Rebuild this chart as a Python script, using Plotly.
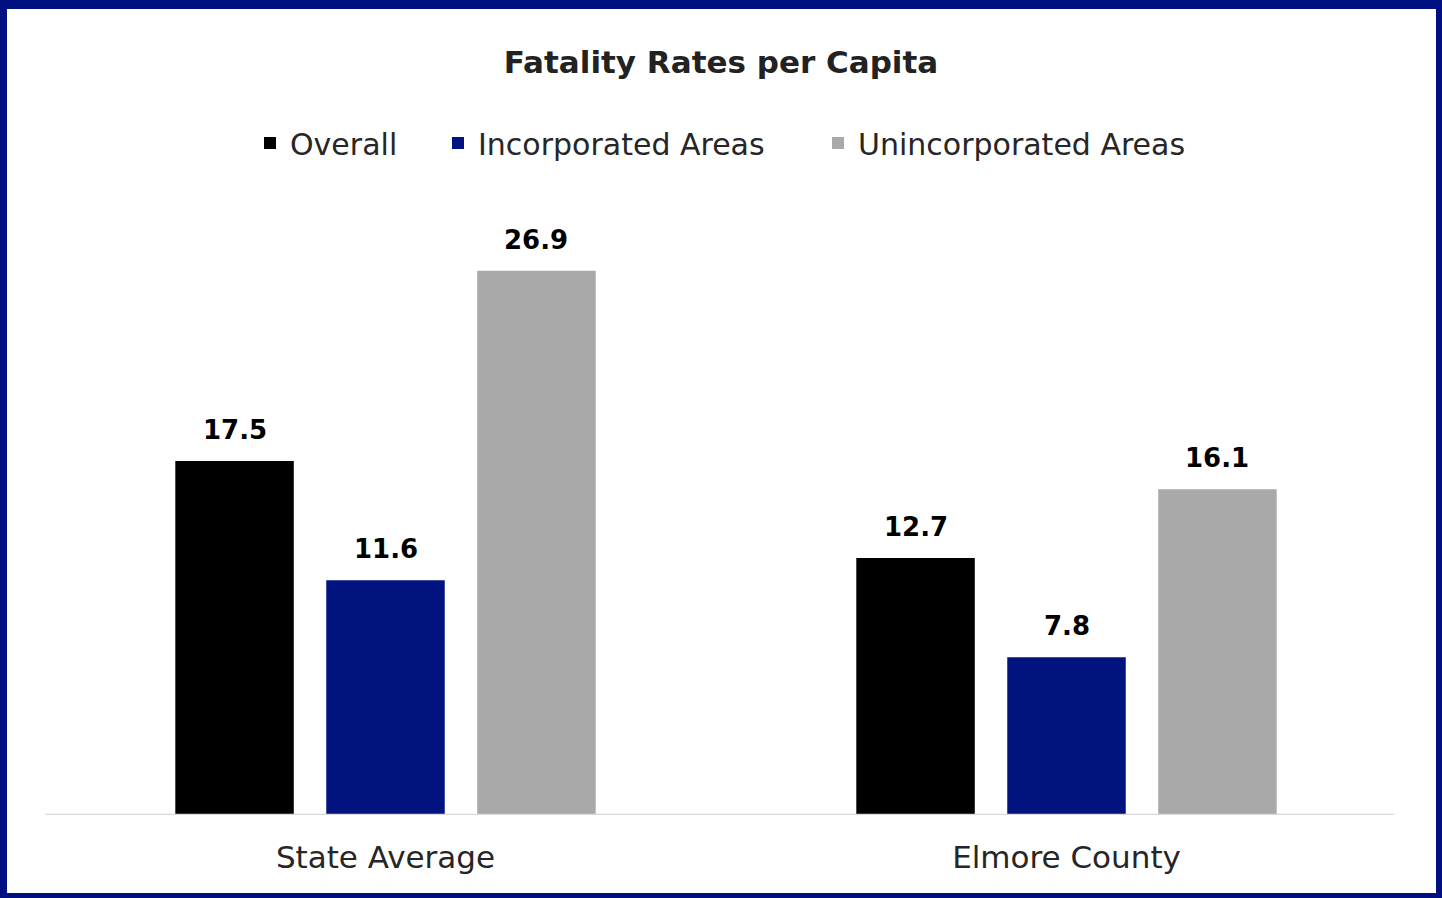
import plotly.graph_objects as go

categories = ["State Average", "Elmore County"]
series_names = ["Overall", "Incorporated Areas", "Unincorporated Areas"]
overall = [17.5, 12.7]
incorporated = [11.6, 7.8]
unincorporated = [26.9, 16.1]
series_values = [overall, incorporated, unincorporated]
colors = ["#000000", "#00137F", "#A9A9A9"]

W, H = 1442, 898
ML, MR, MT, MB = 45, 35, 180, 83
BARGAP = 0.335
BARGROUPGAP = 0.215
YMAX = 31.39

FONT = "DejaVu Sans"
legend_marker_px = [270, 458, 838]  # legend marker centres (layout)

pw = W - ML - MR
ph = H - MT - MB


def px2x(p):
    return (p - ML) / pw


def py2y(p):
    return (H - MB - p) / ph


fig = go.Figure()
legend_ids = ["legend", "legend2", "legend3"]
for name, vals, col, lid in zip(series_names, series_values, colors, legend_ids):
    fig.add_trace(go.Bar(x=categories, y=vals, name=name, legend=lid,
                         marker=dict(color=col, line=dict(width=0))))

# data labels as annotations positioned at grouped-bar centres
n = len(series_names)
slot = (1 - BARGAP) / n
for j, vals in enumerate(series_values):
    for i, v in enumerate(vals):
        fig.add_annotation(x=i + (j - (n - 1) / 2) * slot, y=v, xref="x", yref="y",
                           text=f"<b>{v}</b>", showarrow=False, yanchor="bottom",
                           yshift=14, font=dict(family=FONT, size=26, color="#000000"))

# axis line
fig.add_shape(type="line", xref="paper", yref="y", x0=0, x1=px2x(1394), y0=0, y1=0,
              line=dict(color="#D9D9D9", width=2.5))

# border
navy = "#001080"
for (x0, y0, x1, y1) in [(0, 0, W, 9), (0, 0, 7, H), (W - 6, 0, W, H), (0, H - 5, W, H)]:
    fig.add_shape(type="rect", xref="paper", yref="paper", x0=px2x(x0), x1=px2x(x1),
                  y0=py2y(y1), y1=py2y(y0), fillcolor=navy, line=dict(width=0), layer="above")

legend_common = dict(orientation="h", xanchor="left", y=py2y(143), yanchor="middle",
                     font=dict(family=FONT, size=30, color="#262626"), itemwidth=30,
                     bgcolor="rgba(0,0,0,0)", borderwidth=0)
layout_legends = {}
for lid, mx in zip(legend_ids, legend_marker_px):
    layout_legends[lid] = dict(x=px2x(mx - 20), **legend_common)

fig.update_layout(
    width=W, height=H,
    margin=dict(l=ML, r=MR, t=MT, b=MB),
    paper_bgcolor="white", plot_bgcolor="white",
    barmode="group", bargap=BARGAP, bargroupgap=BARGROUPGAP,
    title=dict(text="<b>Fatality Rates per Capita</b>", x=0.5, xref="container", xanchor="center",
               y=1 - 62 / H, yanchor="middle", yref="container",
               font=dict(family=FONT, size=31, color="#222222")),
    showlegend=True,
    **layout_legends,
)
fig.update_xaxes(showline=False, showgrid=False, zeroline=False, ticks="",
                 tickfont=dict(family=FONT, size=31, color="#262626"), ticklabelstandoff=21)
fig.update_yaxes(range=[0, YMAX], showticklabels=False, showgrid=False, zeroline=False, showline=False)

fig.write_html("out.html")
